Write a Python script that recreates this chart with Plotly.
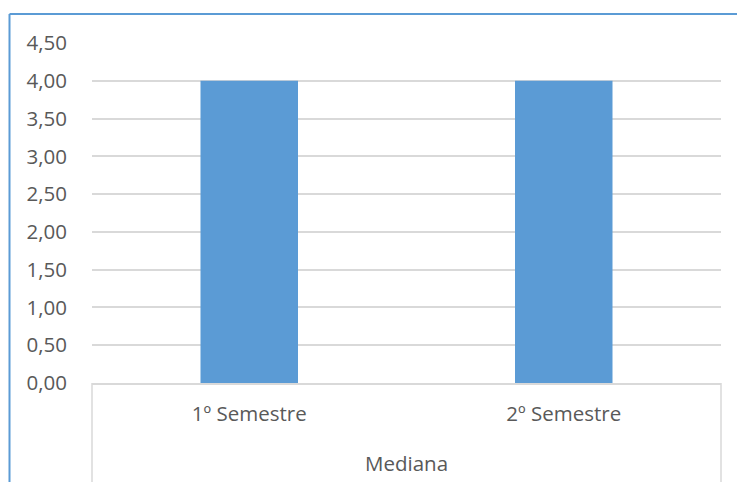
import plotly.graph_objects as go

# Chart data
group_label = "Mediana"
categories = ["1º Semestre", "2º Semestre"]
values = [4.0, 4.0]
y_ticks = [0, 0.5, 1.0, 1.5, 2.0, 2.5, 3.0, 3.5, 4.0, 4.5]

bar_color = "#5B9BD5"
text_color = "#595959"
grid_color = "#D9D9D9"
font_family = "Open Sans"
font_size = 20.5

fig = go.Figure(
    go.Bar(
        x=categories,
        y=values,
        marker=dict(color=bar_color, line=dict(width=0)),
    )
)

W, H = 737, 482
ml, mr, mt, mb = 92, 16, 43, 99
pw, ph = W - ml - mr, H - mt - mb

def px_x(x):
    return (x - ml) / pw

def px_y(y):
    return (H - mb - y) / ph

# outer chart frame (blue, open to the right and bottom)
fx0 = px_x(9.5)
fy1 = px_y(14)
fig.add_shape(type="line", xref="paper", yref="paper",
              x0=fx0, x1=fx0, y0=fy1, y1=-2, line=dict(color=bar_color, width=2))
fig.add_shape(type="line", xref="paper", yref="paper",
              x0=fx0, x1=2, y0=fy1, y1=fy1, line=dict(color=bar_color, width=2))

# group dividers of the two-level category axis
for xd in (0, 1):
    fig.add_shape(type="line", xref="paper", yref="paper",
                  x0=xd, x1=xd, y0=0, y1=-2, line=dict(color=grid_color, width=1.5))

# outer category level
fig.add_annotation(text=group_label, xref="paper", yref="paper",
                   x=0.5, y=px_y(463), xanchor="center", yanchor="middle",
                   showarrow=False,
                   font=dict(family=font_family, size=font_size, color=text_color))

fig.update_layout(
    width=W,
    height=H,
    margin=dict(l=ml, r=mr, t=mt, b=mb),
    paper_bgcolor="white",
    plot_bgcolor="white",
    separators=",.",
    bargap=0.69,
    showlegend=False,
    font=dict(family=font_family, size=font_size, color=text_color),
)

fig.update_xaxes(
    type="category",
    showline=True,
    linecolor=grid_color,
    linewidth=1.5,
    showgrid=False,
    ticks="",
    ticklabelstandoff=12,
    tickfont=dict(family=font_family, size=font_size, color=text_color),
)

fig.update_yaxes(
    range=[0, 4.5],
    tickvals=y_ticks,
    tickformat=".2f",
    showgrid=True,
    gridcolor=grid_color,
    gridwidth=1.5,
    zeroline=False,
    showline=False,
    ticks="",
    ticklabelstandoff=24,
    tickfont=dict(family=font_family, size=font_size, color=text_color),
)

fig.write_html("out.html")
